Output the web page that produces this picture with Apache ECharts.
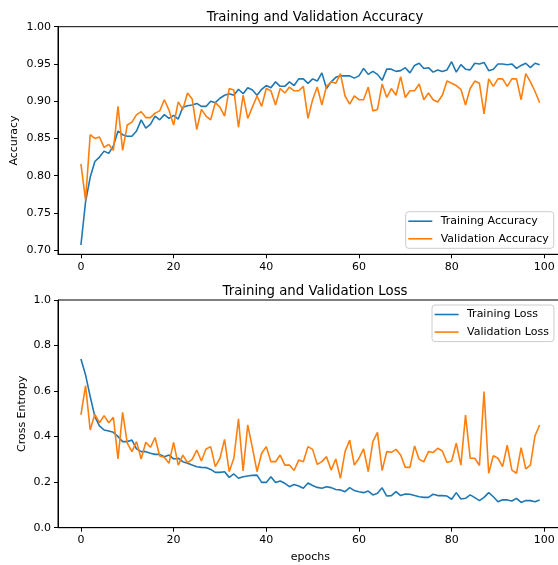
<!DOCTYPE html>
<html>
<head>
<meta charset="utf-8">
<script src="https://cdn.jsdelivr.net/npm/echarts@6/dist/echarts.min.js"></script>
<style>html,body{margin:0;padding:0;background:#fff}#c{width:558px;height:565px}</style>
</head>
<body>
<div id="c"></div>
<script>
const epochs = Array.from({length: 100}, (_, i) => i);
const trainAcc = [0.707,0.765,0.798,0.819,0.825,0.833,0.830,0.840,0.860,0.855,
0.853,0.853,0.860,0.875,0.864,0.869,0.880,0.875,0.882,0.877,
0.881,0.876,0.892,0.894,0.895,0.897,0.893,0.893,0.900,0.898,
0.904,0.908,0.910,0.908,0.916,0.910,0.918,0.915,0.908,0.916,
0.921,0.918,0.926,0.920,0.920,0.926,0.921,0.930,0.930,0.924,
0.930,0.927,0.938,0.917,0.926,0.932,0.934,0.934,0.934,0.931,
0.934,0.944,0.936,0.940,0.936,0.928,0.943,0.943,0.940,0.941,
0.945,0.938,0.948,0.951,0.944,0.945,0.939,0.942,0.940,0.942,
0.953,0.939,0.949,0.943,0.942,0.951,0.950,0.952,0.941,0.943,
0.950,0.950,0.949,0.950,0.944,0.948,0.951,0.945,0.951,0.949];
const valAcc = [0.816,0.767,0.855,0.850,0.852,0.838,0.842,0.834,0.893,0.834,
0.868,0.872,0.882,0.886,0.878,0.878,0.884,0.887,0.902,0.888,
0.868,0.899,0.889,0.911,0.903,0.862,0.889,0.880,0.875,0.898,
0.892,0.880,0.917,0.915,0.865,0.908,0.877,0.892,0.907,0.893,
0.917,0.914,0.895,0.917,0.911,0.919,0.914,0.914,0.920,0.877,
0.902,0.919,0.895,0.920,0.926,0.924,0.937,0.907,0.896,0.907,
0.902,0.902,0.919,0.887,0.889,0.923,0.905,0.917,0.908,0.933,
0.905,0.914,0.914,0.923,0.902,0.911,0.902,0.899,0.908,0.927,
0.924,0.921,0.916,0.895,0.917,0.927,0.924,0.883,0.930,0.920,
0.930,0.930,0.920,0.930,0.930,0.902,0.937,0.926,0.913,0.898];
const trainLoss = [0.741,0.671,0.576,0.488,0.447,0.429,0.425,0.419,0.400,0.378,
0.378,0.385,0.346,0.334,0.334,0.327,0.322,0.322,0.312,0.319,
0.302,0.305,0.290,0.283,0.275,0.268,0.265,0.264,0.256,0.243,
0.243,0.246,0.221,0.236,0.217,0.224,0.227,0.230,0.231,0.199,
0.199,0.224,0.198,0.205,0.195,0.180,0.190,0.183,0.173,0.196,
0.185,0.177,0.173,0.180,0.176,0.168,0.166,0.158,0.176,0.163,
0.158,0.154,0.161,0.144,0.151,0.175,0.139,0.141,0.158,0.141,
0.148,0.147,0.141,0.136,0.133,0.133,0.147,0.141,0.141,0.139,
0.125,0.154,0.126,0.129,0.144,0.132,0.119,0.133,0.154,0.136,
0.114,0.123,0.122,0.117,0.129,0.111,0.119,0.119,0.114,0.122];
const valLoss = [0.495,0.624,0.429,0.498,0.461,0.492,0.461,0.485,0.302,0.507,
0.371,0.334,0.378,0.302,0.375,0.353,0.396,0.315,0.309,0.283,
0.375,0.275,0.319,0.286,0.300,0.341,0.293,0.346,0.356,0.268,
0.305,0.388,0.246,0.305,0.478,0.249,0.451,0.352,0.246,0.327,
0.356,0.290,0.290,0.319,0.275,0.275,0.251,0.297,0.290,0.356,
0.344,0.278,0.290,0.312,0.253,0.302,0.217,0.334,0.385,0.275,
0.305,0.346,0.246,0.378,0.419,0.251,0.334,0.331,0.344,0.319,
0.265,0.265,0.359,0.300,0.290,0.334,0.330,0.349,0.337,0.286,
0.293,0.371,0.275,0.495,0.305,0.305,0.273,0.598,0.239,0.316,
0.305,0.268,0.363,0.253,0.239,0.352,0.258,0.275,0.404,0.451];
const xTicks = ['0','20','40','60','80','100'];
const accTicks = ['0.70','0.75','0.80','0.85','0.90','0.95','1.00'];
const lossTicks = ['0.0','0.2','0.4','0.6','0.8','1.0'];

const FONT = 'DejaVu Sans';
const FS = 11;
const BLUE = '#1f77b4', ORANGE = '#ff7f0e';
const pairs = arr => epochs.map((e, i) => [e, arr[i]]);

function xAxis(gridIndex, withName) {
  return {
    type: 'value', gridIndex, min: -4.95, max: 103.95,
    splitLine: {show: false},
    axisLine: {show: true, onZero: false, lineStyle: {color: '#000', width: 1}},
    axisTick: {show: true, length: 4, lineStyle: {color: '#000'}, customValues: xTicks.map(Number)},
    axisLabel: {show: true, margin: 7, color: '#000', fontFamily: FONT, fontSize: FS, customValues: xTicks.map(Number), formatter: v => String(Math.round(v))},
    name: withName ? 'epochs' : '', nameLocation: 'middle', nameGap: 24, nameMoveOverlap: false,
    nameTextStyle: {color: '#000', fontFamily: FONT, fontSize: FS}
  };
}
function yAxis(gridIndex, min, max, ticks, name, gap, dec) {
  return {
    type: 'value', gridIndex, min, max,
    splitLine: {show: false},
    axisLine: {show: true, onZero: false, lineStyle: {color: '#000', width: 1}},
    axisTick: {show: true, length: 4, lineStyle: {color: '#000'}, customValues: ticks.map(Number)},
    axisLabel: {show: true, margin: 7, color: '#000', fontFamily: FONT, fontSize: FS, customValues: ticks.map(Number), formatter: v => Number(v).toFixed(dec)},
    name, nameLocation: 'middle', nameGap: gap, nameRotate: 90, nameMoveOverlap: false,
    nameTextStyle: {color: '#000', fontFamily: FONT, fontSize: FS}
  };
}
function series(name, arr, color, xi) {
  return {
    type: 'line', name, data: pairs(arr), xAxisIndex: xi, yAxisIndex: xi,
    color, showSymbol: false, symbol: 'none', lineStyle: {width: 1.6, color},
    emphasis: {disabled: true}, silent: true, clip: true
  };
}
const legendBase = {
  orient: 'vertical', itemWidth: 24, itemHeight: 10, itemGap: 4.6,
  icon: 'path://M0,0h24v1.6h-24z', selectedMode: false,
  padding: [3, 5, 3, 2.6],
  borderColor: '#cccccc', borderWidth: 1, borderRadius: 3,
  backgroundColor: 'rgba(255,255,255,0.8)',
  textStyle: {fontFamily: FONT, fontSize: FS, color: '#000', lineHeight: 13, padding: [0, 0, 0, 3.4]}
};
const gridBase = {left: 58, width: 504.6, show: true, borderColor: '#000', borderWidth: 1,
  backgroundColor: 'transparent', containLabel: false, outerBoundsMode: 'none'};

const chart = echarts.init(document.getElementById('c'), null, {renderer: 'canvas'});
chart.setOption({
  animation: false,
  backgroundColor: '#fff',
  title: [
    {text: 'Training and Validation Accuracy', left: 310, top: 6, textAlign: 'center',
     textStyle: {fontFamily: FONT, fontSize: 13.3, fontWeight: 'normal', color: '#000'}},
    {text: 'Training and Validation Loss', left: 310, top: 280, textAlign: 'center',
     textStyle: {fontFamily: FONT, fontSize: 13.3, fontWeight: 'normal', color: '#000'}}
  ],
  grid: [
    Object.assign({}, gridBase, {top: 26.7, height: 227.6}),
    Object.assign({}, gridBase, {top: 300, height: 227.7})
  ],
  xAxis: [xAxis(0, false), xAxis(1, true)],
  yAxis: [
    yAxis(0, 0.6945, 1.0, accTicks, 'Accuracy', 38, 2),
    yAxis(1, 0, 1.0, lossTicks, 'Cross Entropy', 30, 1)
  ],
  legend: [
    Object.assign({}, legendBase, {data: ['Training Accuracy', 'Validation Accuracy'], left: 405.7, top: 211.7}),
    Object.assign({}, legendBase, {data: ['Training Loss', 'Validation Loss'], left: 432, top: 305})
  ],
  series: [
    series('Training Accuracy', trainAcc, BLUE, 0),
    series('Validation Accuracy', valAcc, ORANGE, 0),
    series('Training Loss', trainLoss, BLUE, 1),
    series('Validation Loss', valLoss, ORANGE, 1)
  ]
});
</script>
</body>
</html>
